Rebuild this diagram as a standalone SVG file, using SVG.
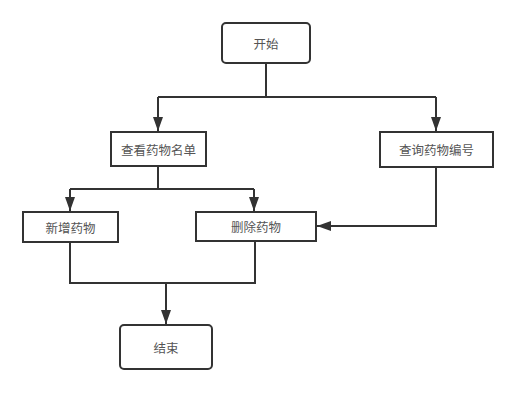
<svg xmlns="http://www.w3.org/2000/svg" width="517" height="394" viewBox="0 0 517 394">
<defs>
<marker id="arr" viewBox="0 0 14 10" refX="14" refY="5" markerWidth="14" markerHeight="10" markerUnits="userSpaceOnUse" orient="auto">
<path d="M0,0 L14,5 L0,10 Z" fill="#333"/>
</marker>
</defs>
<style>
.box{fill:#fff;stroke:#333;stroke-width:2}
.lbl{font-family:"Noto Sans CJK SC","Liberation Sans",sans-serif;font-size:12.5px;fill:#555;text-anchor:middle;dominant-baseline:central}
.ln{fill:none;stroke:#333;stroke-width:2}
</style>
<rect width="517" height="394" fill="#fff"/>
<g id="connectors">
<path class="ln" d="M266,63 V97"/>
<path class="ln" d="M158,97 H436"/>
<path class="ln" d="M158,97 V131" marker-end="url(#arr)"/>
<path class="ln" d="M436,97 V131" marker-end="url(#arr)"/>
<path class="ln" d="M158,166 V189"/>
<path class="ln" d="M70,189 H254"/>
<path class="ln" d="M70,189 V211" marker-end="url(#arr)"/>
<path class="ln" d="M254,189 V211" marker-end="url(#arr)"/>
<path class="ln" d="M436,167 V226 H317" marker-end="url(#arr)"/>
<path class="ln" d="M70,242 V283 H255 V241"/>
<path class="ln" d="M166,283 V324" marker-end="url(#arr)"/>
</g>
<g id="start"><rect class="box" x="222" y="23" width="88" height="40" rx="4"/><text class="lbl" x="266" y="43">开始</text></g>
<g id="view"><rect class="box" x="111" y="132" width="95" height="34"/><text class="lbl" x="158.5" y="149">查看药物名单</text></g>
<g id="query"><rect class="box" x="380" y="132" width="113" height="35"/><text class="lbl" x="436.5" y="149.5">查询药物编号</text></g>
<g id="add"><rect class="box" x="23" y="212" width="95" height="30"/><text class="lbl" x="70.5" y="227">新增药物</text></g>
<g id="delete"><rect class="box" x="196" y="212" width="120" height="29"/><text class="lbl" x="256" y="226.5">删除药物</text></g>
<g id="end"><rect class="box" x="120" y="325" width="92" height="44" rx="4"/><text class="lbl" x="166" y="347">结束</text></g>
</svg>
